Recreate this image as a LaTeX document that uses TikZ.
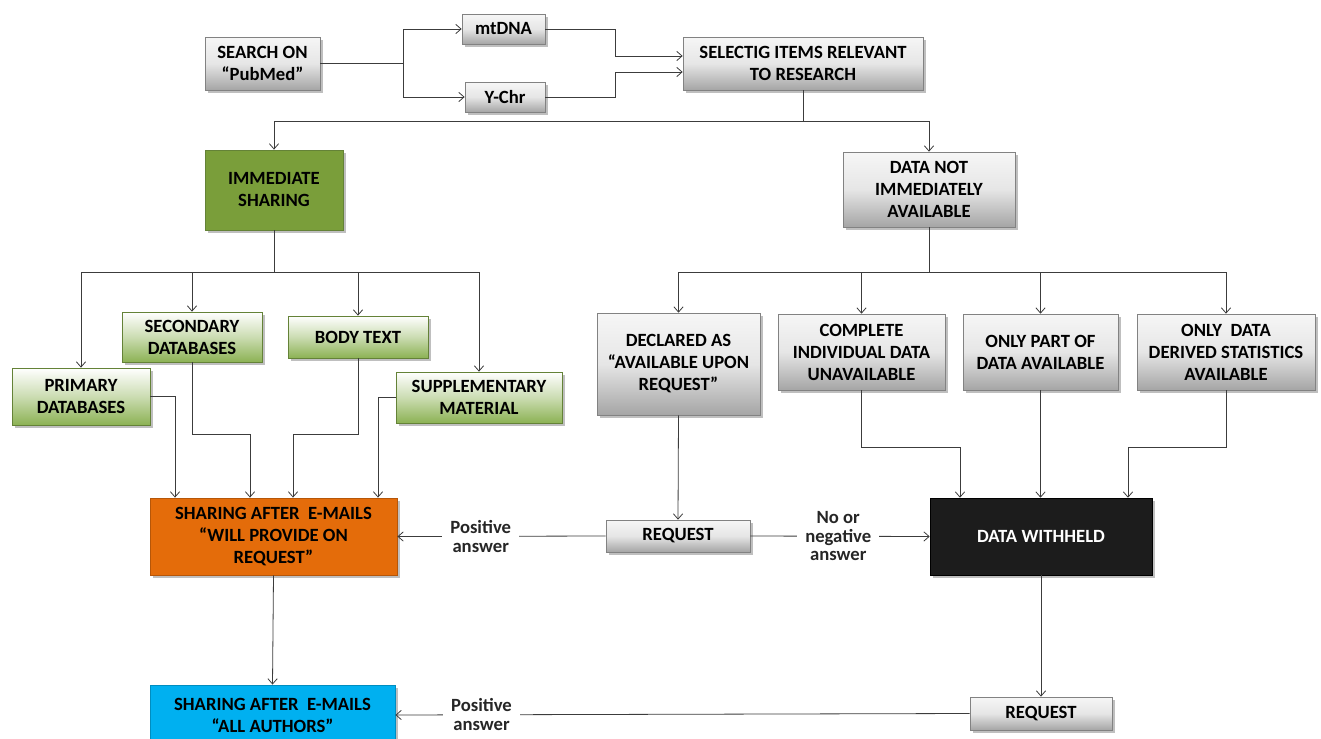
\documentclass[tikz,border=0pt]{standalone}
\usepackage{fontspec}
\setmainfont{Carlito}
\usetikzlibrary{arrows.meta,shadows,calc}
\definecolor{ln}{RGB}{60,60,60}
\definecolor{grtop}{RGB}{246,246,246}
\definecolor{grbot}{RGB}{165,165,165}
\definecolor{grbd}{RGB}{130,130,130}
\definecolor{gsolid}{RGB}{122,158,58}
\definecolor{gbot}{RGB}{140,178,84}
\definecolor{gbd}{RGB}{100,130,55}
\definecolor{orng}{RGB}{228,108,10}
\definecolor{cyanb}{RGB}{0,176,240}
\definecolor{blk}{RGB}{28,28,28}
\tikzset{
  base/.style={align=center, inner sep=0pt, font=\fontsize{14}{16.5}\selectfont\bfseries,
    drop shadow={opacity=0.5, shadow xshift=2pt, shadow yshift=-2pt}},
  graybox/.style={base, draw=grbd, line width=0.5pt, top color=grtop, bottom color=grbot, middle color=grtop!80!grbot},
  greenbox/.style={base, draw=gbd, line width=0.5pt, top color=white, bottom color=gbot, middle color=white!55!gbot},
  gsolidbox/.style={base, draw=gbd, line width=0.6pt, fill=gsolid},
  orangebox/.style={base, draw=orng!80!black, line width=0.6pt, fill=orng},
  bluebox/.style={base, draw=cyanb!80!black, line width=0.6pt, fill=cyanb},
  blackbox/.style={base, draw=black, fill=blk, text=white},
  conn/.style={draw=ln, line width=0.6pt},
  arr/.style={conn, -{Straight Barb[length=4pt,width=7pt]}},
  lbl/.style={fill=white, align=center, inner xsep=6pt, inner ysep=1pt, font=\fontsize{14}{14}\selectfont\bfseries, text=black!85}
}
\newcommand\mybox[7]{\node[#2, minimum width={(#5-#3)*0.75pt}, minimum height={(#6-#4)*0.75pt}] (#1) at ({(#3+#5)/2},{(#4+#6)/2}) {#7};}
\begin{document}
\begin{tikzpicture}[x=0.75pt,y=-0.75pt]
\useasboundingbox (0,0) rectangle (1321,739);
% top row
\mybox{search}{graybox}{205}{37}{320}{90}{SEARCH ON\\“PubMed”}
\mybox{mtdna}{graybox}{462}{14}{545}{44}{mtDNA}
\mybox{ychr}{graybox}{465}{82}{545}{112}{Y-Chr}
\mybox{sel}{graybox}{683}{37}{923}{90}{SELECTIG ITEMS RELEVANT\\TO RESEARCH}
% second level
\mybox{imm}{gsolidbox}{205}{150}{343}{230}{IMMEDIATE\\SHARING}
\mybox{dna}{graybox}{843}{152}{1015}{227}{DATA NOT\\IMMEDIATELY\\AVAILABLE}
% green children
\mybox{prim}{greenbox}{12}{368}{150}{425}{PRIMARY\\DATABASES}
\mybox{sec}{greenbox}{122}{312}{262}{362}{SECONDARY\\DATABASES}
\mybox{body}{greenbox}{288}{316}{428}{358}{BODY TEXT}
\mybox{sup}{greenbox}{396}{372}{562}{423}{SUPPLEMENTARY\\MATERIAL}
% gray children
\mybox{decl}{graybox}{597}{313}{760}{415}{DECLARED AS\\“AVAILABLE UPON\\REQUEST”}
\mybox{comp}{graybox}{778}{314}{945}{390}{COMPLETE\\INDIVIDUAL DATA\\UNAVAILABLE}
\mybox{part}{graybox}{963}{314}{1118}{390}{ONLY PART OF\\DATA AVAILABLE}
\mybox{only}{graybox}{1137}{314}{1315}{390}{ONLY~ DATA\\DERIVED STATISTICS\\AVAILABLE}
% lower
\mybox{orange}{orangebox}{150}{498}{397}{575}{SHARING AFTER~ E-MAILS\\“WILL PROVIDE ON\\REQUEST”}
\mybox{req}{graybox}{606}{520}{750}{552}{REQUEST}
\mybox{held}{blackbox}{930}{498}{1152}{575}{DATA WITHHELD}
\mybox{req2}{graybox}{970}{697}{1112}{730}{REQUEST}
\mybox{blue}{bluebox}{150}{685}{395}{745}{SHARING AFTER~ E-MAILS\\“ALL AUTHORS”}
% junctions
\coordinate (j1) at (403,63.5);
\draw[conn] (search.east) -- (j1);
\draw[arr] (j1) |- (mtdna.west);
\draw[arr] (j1) |- (ychr.west);
\draw[arr] (mtdna.east) -- ++(70,0) |- (sel.west |- 0,56);
\draw[arr] (ychr.east) -- ++(70,0) |- (sel.west |- 0,72);
\coordinate (j2) at (sel.south |- 0,121);
\draw[conn] (sel.south) -- (j2);
\draw[arr] (j2) -| (imm.north);
\draw[arr] (j2) -| (dna.north);
\coordinate (j3) at (imm.south |- 0,272);
\draw[conn] (imm.south) -- (j3);
\draw[arr] (j3) -| (prim.north);
\draw[arr] (j3) -| (sec.north);
\draw[arr] (j3) -| (body.north);
\draw[arr] (j3) -| (sup.north);
\coordinate (j4) at (dna.south |- 0,272);
\draw[conn] (dna.south) -- (j4);
\draw[arr] (j4) -| (decl.north);
\draw[arr] (j4) -| (comp.north);
\draw[arr] (j4) -| (part.north);
\draw[arr] (j4) -| (only.north);
% into orange
\draw[arr] (prim.east) -| (orange.north -| 175,0);
\draw[arr] (sec.south) -- (sec.south |- 0,434) -| (orange.north -| 250,0);
\draw[arr] (body.south) -- (body.south |- 0,434) -| (orange.north -| 293,0);
\draw[arr] (sup.west) -| (orange.north -| 378,0);
% into withheld
\draw[arr] (comp.south) -- (comp.south |- 0,447) -| (held.north -| 960,0);
\draw[arr] (part.south) -- (part.south |- held.north);
\draw[arr] (only.south) -- (only.south |- 0,447) -| (held.north -| 1128,0);
% requests
\draw[arr] (decl.south) -- (req.north);
\draw[arr] (req.west) -- node[lbl, pos=0.6] {Positive\\answer} (orange.east);
\draw[arr] (req.east) -- node[lbl, pos=0.49] {No or\\negative\\answer} (held.west);
\draw[arr] (held.south) -- (req2.north);
\draw[arr] (orange.south) -- (blue.north);
\draw[arr] (req2.west) -- node[lbl, pos=0.85] {Positive\\answer} (blue.east);
\end{tikzpicture}
\end{document}
